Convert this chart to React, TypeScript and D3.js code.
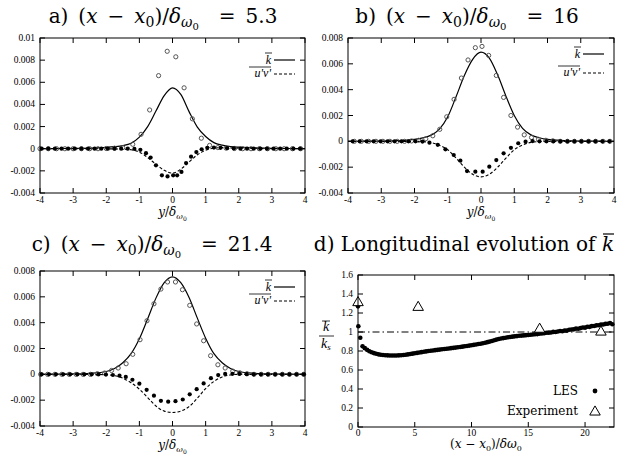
import * as d3 from "d3";

const W = 624;
const H = 457;
const SERIF = "'DejaVu Serif', serif";
const TICKFONT = "'Liberation Serif', serif";

// LES profile abscissae y/δω0 (shared by panels a-c)
const lesY = [-4, -3.5, -3, -2.5, -2, -1.75, -1.5, -1.25, -1, -0.75, -0.5, -0.25, 0, 0.25, 0.5, 0.75, 1, 1.25, 1.5, 1.75, 2, 2.5, 3, 3.5, 4];

// panel a: (x-x0)/δω0 = 5.3
const kLesA = [0, 0.00002, 0.00003, 0.00006, 0.00012, 0.00018, 0.00028, 0.0005, 0.00105, 0.002, 0.0034, 0.0048, 0.0055, 0.0049, 0.00335, 0.00195, 0.0011, 0.00055, 0.00032, 0.0002, 0.00014, 0.00007, 0.00003, 0.00002, 0];
const uvLesA = [0, 0, 0, 0, -0.00001, -0.00002, -0.00004, -0.0001, -0.0003, -0.0008, -0.0014, -0.00195, -0.0022, -0.00185, -0.0012, -0.00055, -0.00015, 0.00005, 0.0001, 0.00008, 0.00005, 0.00002, 0, 0, 0];
const kExpXA = [-4, -3.75, -3.5, -3.25, -3, -2.75, -2.5, -2.25, -2, -1.75, -1.5, -1.2, -0.95, -0.69, -0.42, -0.16, 0.1, 0.35, 0.6, 0.87, 1.12, 1.37, 1.62, 1.87, 2.12, 2.37, 2.62, 2.87, 3.12, 3.37, 3.62, 3.87];
const kExpA = [0, 0, 0, 0, 0, 0, 0, 0, 0.00002, 0.00005, 0.0001, 0.0004, 0.0013, 0.0035, 0.0066, 0.0088, 0.0083, 0.0055, 0.0027, 0.00095, 0.0003, 0.0001, 0.00005, 0.00002, 0, 0, 0, 0, 0, 0, 0, 0];
const uvExpXA = [-3.95, -3.75, -3.55, -3.35, -3.15, -2.95, -2.75, -2.55, -2.35, -2.15, -1.95, -1.75, -1.55, -1.35, -1.15, -0.97, -0.8, -0.66, -0.5, -0.32, -0.15, 0.02, 0.14, 0.27, 0.41, 0.56, 0.72, 0.88, 1.05, 1.25, 1.45, 1.65, 1.85, 2.05, 2.25, 2.45, 2.65, 2.85, 3.05, 3.25, 3.45, 3.65, 3.85];
const uvExpA = [0, 0, 0, 0, 0, 0, 0, 0, 0, 0, 0, 0, 0, 0, -0.00002, -0.0001, -0.0004, -0.0008, -0.0015, -0.0024, -0.0025, -0.0024, -0.0024, -0.0021, -0.0013, -0.00072, -0.0003, -0.00005, 0.00008, 0.0001, 0.00008, 0.00005, 0.00003, 0, 0, 0, 0, 0, 0, 0, 0, 0, 0];

// panel b: (x-x0)/δω0 = 16
const kLesB = [0, 0.00001, 0.00002, 0.00005, 0.00015, 0.00027, 0.00048, 0.00095, 0.0019, 0.00345, 0.0051, 0.00635, 0.0069, 0.00645, 0.00515, 0.0035, 0.002, 0.001, 0.0005, 0.00028, 0.00015, 0.00006, 0.00002, 0.00001, 0];
const uvLesB = [0, 0, 0, 0, 0, -0.00002, -0.0001, -0.0003, -0.00065, -0.0013, -0.002, -0.00255, -0.00275, -0.00255, -0.002, -0.0013, -0.00065, -0.00028, -0.00008, -0.00002, 0, 0, 0, 0, 0];
const kExpXB = [-3.81, -3.6, -3.38, -3.16, -2.95, -2.74, -2.52, -2.3, -2.09, -1.88, -1.66, -1.45, -1.24, -1.03, -0.81, -0.59, -0.39, -0.17, 0.03, 0.23, 0.46, 0.68, 0.9, 1.1, 1.3, 1.52, 1.73, 1.95, 2.16, 2.38, 2.6, 2.81, 3.02, 3.24, 3.45, 3.67, 3.88];
const kExpB = [0, 0, 0, 0, 0, 0, 0, 0, 0.00003, 0.00008, 0.0002, 0.00043, 0.00093, 0.0019, 0.00325, 0.0049, 0.0063, 0.00725, 0.00735, 0.00665, 0.0051, 0.0034, 0.002, 0.0011, 0.0005, 0.0003, 0.00015, 0.00008, 0.00004, 0, 0, 0, 0, 0, 0, 0, 0];
const uvExpXB = [-3.86, -3.65, -3.44, -3.23, -3.02, -2.81, -2.6, -2.39, -2.18, -1.97, -1.76, -1.55, -1.3, -1.07, -0.82, -0.62, -0.42, -0.17, 0.05, 0.25, 0.46, 0.68, 0.9, 1.12, 1.34, 1.55, 1.76, 1.97, 2.18, 2.39, 2.6, 2.81, 3.02, 3.23, 3.44, 3.65, 3.86];
const uvExpB = [0, 0, 0, 0, 0, 0, 0, 0, 0, 0, -0.00002, -0.0001, -0.00027, -0.00062, -0.00106, -0.0015, -0.0023, -0.00235, -0.00235, -0.00196, -0.00145, -0.00093, -0.0005, -0.00015, -0.00003, 0.00002, 0, 0, 0, 0, 0, 0, 0, 0, 0, 0, 0];

// panel c: (x-x0)/δω0 = 21.4
const kLesC = [0, 0.00001, 0.00003, 0.00008, 0.00022, 0.00045, 0.0009, 0.0016, 0.00275, 0.0043, 0.0059, 0.0071, 0.00755, 0.0071, 0.00595, 0.00435, 0.0028, 0.0016, 0.0009, 0.00045, 0.00022, 0.00008, 0.00003, 0.00001, 0];
const uvLesC = [0, 0, 0, 0, -0.00003, -0.0001, -0.0003, -0.00065, -0.00115, -0.0018, -0.00245, -0.00285, -0.00295, -0.00285, -0.0025, -0.00185, -0.0011, -0.00055, -0.0002, -0.00005, 0, 0, 0, 0, 0];
const kExpXC = [-3.98, -3.77, -3.55, -3.34, -3.12, -2.91, -2.7, -2.48, -2.27, -2.05, -1.84, -1.64, -1.4, -1.2, -0.98, -0.77, -0.56, -0.35, -0.15, 0.09, 0.3, 0.52, 0.73, 0.94, 1.15, 1.37, 1.59, 1.82, 2.03, 2.25, 2.46, 2.68, 2.89, 3.1, 3.32, 3.53, 3.75, 3.96];
const kExpC = [0, 0, 0, 0, 0, 0, 0, 0, 0.00005, 0.0001, 0.0003, 0.00049, 0.00082, 0.00155, 0.00268, 0.00415, 0.00546, 0.0066, 0.00715, 0.00715, 0.00655, 0.00534, 0.0039, 0.0026, 0.00144, 0.00074, 0.00049, 0.00025, 0.00012, 0.00005, 0, 0, 0, 0, 0, 0, 0, 0];
const uvExpXC = [-3.95, -3.73, -3.52, -3.3, -3.09, -2.87, -2.66, -2.44, -2.23, -2.01, -1.8, -1.6, -1.41, -1.21, -1.0, -0.78, -0.56, -0.35, -0.13, 0.09, 0.31, 0.52, 0.73, 0.94, 1.16, 1.38, 1.59, 1.81, 2.02, 2.24, 2.45, 2.67, 2.88, 3.1, 3.31, 3.53, 3.74, 3.96];
const uvExpC = [0, 0, 0, 0, 0, 0, 0, 0, 0, -0.00002, -0.00005, -0.0001, -0.0002, -0.00042, -0.00072, -0.0012, -0.00165, -0.00205, -0.00212, -0.00208, -0.00195, -0.00155, -0.00115, -0.0007, -0.0003, -0.00006, 0.00003, 0.00004, 0.00003, 0.00001, 0, 0, 0, 0, 0, 0, 0, 0];

const profTicksX = [-4, -3, -2, -1, 0, 1, 2, 3, 4];
const yTicksA = [-0.004, -0.002, 0, 0.002, 0.004, 0.006, 0.008, 0.01];
const yTicksBC = [-0.004, -0.002, 0, 0.002, 0.004, 0.006, 0.008];

// panel d: longitudinal evolution of k / k_s
const lesHeadX = [0, 0.03, 0.2];
const lesHeadK = [1.27, 1.06, 0.94];
const LES_X0 = 0.4;
const LES_STEP = 0.2;
const lesK = [
  0.85, 0.83, 0.812, 0.798, 0.787, 0.778, 0.771, 0.765, 0.761, 0.758,
  0.756, 0.754, 0.753, 0.752, 0.752, 0.753, 0.754, 0.756, 0.758, 0.761,
  0.764, 0.768, 0.772, 0.776, 0.78, 0.784, 0.788, 0.792, 0.796, 0.8,
  0.803, 0.806, 0.809, 0.812, 0.815, 0.818, 0.821, 0.824, 0.827, 0.83,
  0.833, 0.836, 0.839, 0.842, 0.846, 0.85, 0.853, 0.857, 0.861, 0.865,
  0.869, 0.873, 0.877, 0.882, 0.887, 0.893, 0.899, 0.906, 0.913, 0.92,
  0.926, 0.931, 0.936, 0.94, 0.944, 0.948, 0.951, 0.954, 0.957, 0.96,
  0.962, 0.964, 0.967, 0.969, 0.971, 0.974, 0.976, 0.978, 0.983, 0.985,
  0.987, 0.992, 0.993, 0.994, 1.001, 1.0, 1.005, 1.01, 1.008, 1.016,
  1.015, 1.024, 1.026, 1.028, 1.036, 1.035, 1.041, 1.047, 1.046, 1.055,
  1.054, 1.062, 1.063, 1.07, 1.071, 1.078, 1.079, 1.086, 1.087, 1.095,
  1.082,
];
const expX = [0, 5.3, 16, 21.4];
const expK = [1.32, 1.27, 1.04, 1.01];
const dTicksX = [0, 5, 10, 15, 20];
const dTicksY = [0, 0.2, 0.4, 0.6, 0.8, 1, 1.2, 1.4, 1.6];

const TICK = 5;

function Frame({ x, y, xt, yt, l, r, t, b, xlab = 10 }) {
  return (
    <g>
      <rect x={l} y={t} width={r - l} height={b - t} fill="none" stroke="#000" strokeWidth={1} />
      {xt.map((v) => (
        <g key={"x" + v}>
          <line x1={x(v)} x2={x(v)} y1={b} y2={b - TICK} stroke="#000" />
          <line x1={x(v)} x2={x(v)} y1={t} y2={t + TICK} stroke="#000" />
          <text x={x(v)} y={b + xlab} textAnchor="middle" fontFamily={TICKFONT} fontSize={9.5}>{String(v)}</text>
        </g>
      ))}
      {yt.map((v) => (
        <g key={"y" + v}>
          <line x1={l} x2={l + TICK} y1={y(v)} y2={y(v)} stroke="#000" />
          <line x1={r} x2={r - TICK} y1={y(v)} y2={y(v)} stroke="#000" />
          <text x={l - 5} y={y(v) + 3} textAnchor="end" fontFamily={TICKFONT} fontSize={9.5}>{String(v)}</text>
        </g>
      ))}
    </g>
  );
}

function Title({ cx, by, label, value }) {
  return (
    <text x={cx} y={by} textAnchor="middle" fontFamily={SERIF} fontSize={20}>
      {label + ")\u2002("}<tspan fontStyle="italic">x</tspan>{"\u2002−\u2002"}<tspan fontStyle="italic">x</tspan>
      <tspan fontSize={14} dy={4}>0</tspan>
      <tspan dy={-4}>)/</tspan>
      <tspan fontStyle="italic">δ</tspan>
      <tspan fontSize={14} fontStyle="italic" dy={4}>ω</tspan>
      <tspan fontSize={10} dy={3}>0</tspan>
      <tspan dy={-7}>{"\u2002\u2002=\u2002" + value}</tspan>
    </text>
  );
}

function Profile({ l, r, t, b, yDom, yt, kLes, uvLes, kX, kV, uvX, uvV, label, value, titleX, titleY, lg }) {
  const x = d3.scaleLinear().domain([-4, 4]).range([l, r]);
  const y = d3.scaleLinear().domain(yDom).range([b, t]);
  const line = d3
    .line<number>()
    .x((_, i) => x(lesY[i]))
    .y((d) => y(d))
    .curve(d3.curveMonotoneX);
  const cx = (l + r) / 2;
  return (
    <g>
      <Title cx={titleX} by={titleY} label={label} value={value} />
      <path d={line(kLes)} fill="none" stroke="#000" strokeWidth={1.2} />
      <path d={line(uvLes)} fill="none" stroke="#000" strokeWidth={1.1} strokeDasharray="3,2" />
      {kV.map((v, i) => (
        <circle key={"k" + i} cx={x(kX[i])} cy={y(v)} r={2.1} fill="none" stroke="#555" strokeWidth={1} />
      ))}
      {uvV.map((v, i) => (
        <circle key={"u" + i} cx={x(uvX[i])} cy={y(v)} r={2.1} fill="#000" />
      ))}
      <Frame x={x} y={y} xt={profTicksX} yt={yt} l={l} r={r} t={t} b={b} />
      {/* legend */}
      <line x1={r - 31} x2={r - 10} y1={t + lg[0]} y2={t + lg[0]} stroke="#000" strokeWidth={1.2} />
      <text x={r - 34} y={t + lg[0] + 4} textAnchor="end" fontFamily={TICKFONT} fontStyle="italic" fontSize={12}>k</text>
      <line x1={r - 40} x2={r - 33} y1={t + lg[0] - 7} y2={t + lg[0] - 7} stroke="#000" strokeWidth={0.8} />
      <line x1={r - 31} x2={r - 10} y1={t + lg[1]} y2={t + lg[1]} stroke="#000" strokeWidth={1.1} strokeDasharray="3,2" />
      <text x={r - 34} y={t + lg[1] + 3} textAnchor="end" fontFamily={TICKFONT} fontStyle="italic" fontSize={12}>u'v'</text>
      <line x1={r - 56} x2={r - 34} y1={t + lg[1] - 7} y2={t + lg[1] - 7} stroke="#000" strokeWidth={0.8} />
      {/* axis label */}
      <text x={cx} y={b + 23} textAnchor="middle" fontFamily={SERIF} fontSize={12}>
        <tspan fontStyle="italic">y</tspan>/<tspan fontStyle="italic">δ</tspan>
        <tspan fontSize={8} fontStyle="italic" dy={3}>ω</tspan>
        <tspan fontSize={6} dy={2}>0</tspan>
      </text>
    </g>
  );
}

function Evolution() {
  const l = 358, r = 614, t = 275, b = 427;
  const x = d3.scaleLinear().domain([0, 22.55]).range([l, r]);
  const y = d3.scaleLinear().domain([0, 1.6]).range([b, t]);
  const tri = d3.symbol(d3.symbolTriangle, 48)();
  const lesPts = [
    ...lesHeadX.map((v, i) => [v, lesHeadK[i]]),
    ...lesK.map((v, i) => [LES_X0 + i * LES_STEP, v]),
  ];
  return (
    <g>
      <text x={614} y={251} textAnchor="end" fontFamily={SERIF} fontSize={20}>
        d) Longitudinal evolution of <tspan fontStyle="italic">k</tspan>
      </text>
      <line x1={603} x2={614} y1={234} y2={234} stroke="#000" strokeWidth={1.2} />
      <line x1={l} x2={r} y1={y(1)} y2={y(1)} stroke="#000" strokeWidth={1} strokeDasharray="7,3,1.5,3" />
      {lesPts.map(([px, v], i) => (
        <circle key={i} cx={x(px)} cy={y(v)} r={2.3} fill="#000" />
      ))}
      {expX.map((v, i) => (
        <path key={"e" + i} d={tri} transform={`translate(${x(v)},${y(expK[i]) + 1})`} fill="#fff" stroke="#000" strokeWidth={1} />
      ))}
      <Frame x={x} y={y} xt={dTicksX} yt={dTicksY} l={l} r={r} t={t} b={b} xlab={9} />
      {/* legend */}
      <text x={578} y={395} textAnchor="end" fontFamily={SERIF} fontSize={12}>LES</text>
      <circle cx={595} cy={391} r={2.4} fill="#000" />
      <text x={578} y={415} textAnchor="end" fontFamily={SERIF} fontSize={12}>Experiment</text>
      <path d={tri} transform="translate(595,412)" fill="#fff" stroke="#000" strokeWidth={1} />
      {/* y label */}
      <text x={326} y={331} textAnchor="middle" fontFamily={TICKFONT} fontStyle="italic" fontSize={14}>k</text>
      <line x1={322} x2={330} y1={321} y2={321} stroke="#000" strokeWidth={0.8} />
      <line x1={319} x2={334} y1={336} y2={336} stroke="#000" strokeWidth={0.8} />
      <text x={322} y={348} fontFamily={TICKFONT} fontSize={14}>
        <tspan x={321} fontStyle="italic">k</tspan>
        <tspan fontStyle="italic" fontSize={9} dy={2}>s</tspan>
      </text>
      {/* x label */}
      <text x={486} y={448} textAnchor="middle" fontFamily={SERIF} fontSize={12}>
        (<tspan fontStyle="italic">x</tspan> − <tspan fontStyle="italic">x</tspan>
        <tspan fontSize={8} dy={3}>0</tspan>
        <tspan dy={-3}>)/</tspan>
        <tspan fontStyle="italic">δω</tspan>
        <tspan fontSize={8} dy={3}>0</tspan>
      </text>
    </g>
  );
}

export default function App() {
  return (
    <svg width={W} height={H} viewBox={`0 0 ${W} ${H}`} style={{ position: "absolute", left: 0, top: 0, background: "#fff" }}>
      <rect width={W} height={H} fill="#fff" />
      <Profile l={40} r={305} t={38} b={193} yDom={[-0.004, 0.01]} yt={yTicksA} kLes={kLesA} uvLes={uvLesA}
        kX={kExpXA} kV={kExpA} uvX={uvExpXA} uvV={uvExpA} label="a" value="5.3" titleX={163} titleY={23} lg={[22, 36]} />
      <Profile l={348} r={614} t={38} b={193} yDom={[-0.004, 0.008]} yt={yTicksBC} kLes={kLesB} uvLes={uvLesB}
        kX={kExpXB} kV={kExpB} uvX={uvExpXB} uvV={uvExpB} label="b" value="16" titleX={467} titleY={23} lg={[16, 35]} />
      <Profile l={40} r={305} t={271} b={426} yDom={[-0.004, 0.008]} yt={yTicksBC} kLes={kLesC} uvLes={uvLesC}
        kX={kExpXC} kV={kExpC} uvX={uvExpXC} uvV={uvExpC} label="c" value="21.4" titleX={152} titleY={251} lg={[16, 30]} />
      <Evolution />
    </svg>
  );
}
